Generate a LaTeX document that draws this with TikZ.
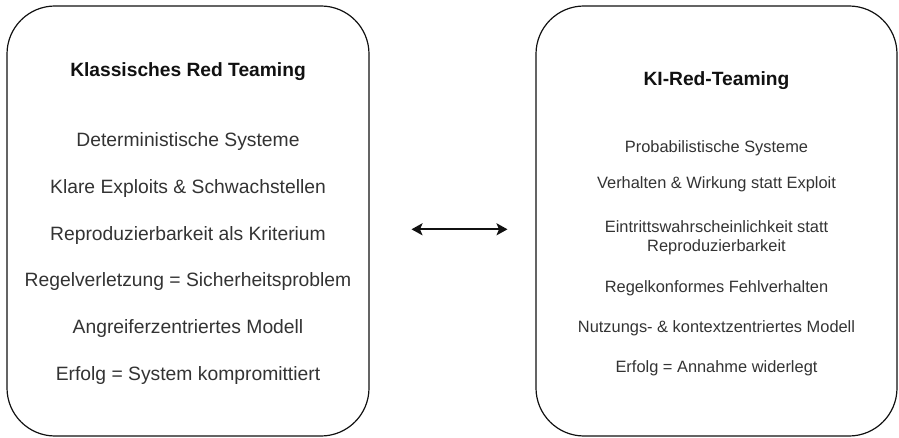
\documentclass[tikz,border=0pt]{standalone}
\usepackage{fontspec}
\setmainfont{Liberation Sans}
\usetikzlibrary{arrows.meta}

\definecolor{edge}{HTML}{111111}
\definecolor{bodytext}{HTML}{333333}
\definecolor{headtext}{HTML}{111111}

\tikzset{
  panel/.style={draw=edge, line width=1.2pt, rounded corners=48pt},
  headline/.style={anchor=base, inner sep=0pt, text=headtext,
    font=\fontsize{19.2}{22}\selectfont\bfseries},
  itembig/.style={anchor=base, inner sep=0pt, text=bodytext,
    font=\fontsize{19.3}{23}\selectfont},
  itemsmall/.style={anchor=base, inner sep=0pt, text=bodytext, align=center,
    font=\fontsize{16.4}{19.4}\selectfont},
  link/.style={draw=edge, line width=1.9pt,
    {Stealth[length=11pt,width=12pt,inset=2.5pt]}-{Stealth[length=11pt,width=12pt,inset=2.5pt]}}
}

\begin{document}
\begin{tikzpicture}[x=1pt,y=-1pt]
  \useasboundingbox (0,0) rectangle (899,438);

  % the two panels
  \draw[panel] (7,6) rectangle (369,436);
  \draw[panel] (536,6) rectangle (897,436);

  % left panel: classical red teaming
  \node[headline] (lt) at (188,76.7) {Klassisches Red Teaming};
  \node[itembig] (l1) at (188,147)   {Deterministische Systeme};
  \node[itembig] (l2) at (188,193.7) {Klare Exploits \& Schwachstellen};
  \node[itembig] (l3) at (188,240.3) {Reproduzierbarkeit als Kriterium};
  \node[itembig] (l4) at (188,287)   {Regelverletzung = Sicherheitsproblem};
  \node[itembig] (l5) at (188,333.7) {Angreiferzentriertes Modell};
  \node[itembig] (l6) at (188,380.3) {Erfolg = System kompromittiert};

  % right panel: AI red teaming
  \node[headline] (rt) at (716.5,86) {KI-Red-Teaming};
  \node[itemsmall] (r1) at (716.5,152.7) {Probabilistische Systeme};
  \node[itemsmall] (r2) at (716.5,188.3) {Verhalten \& Wirkung statt Exploit};
  \node[itemsmall] (r3a) at (716.5,232.3) {Eintrittswahrscheinlichkeit statt};
  \node[itemsmall] (r3b) at (716.5,251.7) {Reproduzierbarkeit};
  \node[itemsmall] (r4) at (716.5,292.7) {Regelkonformes Fehlverhalten};
  \node[itemsmall] (r5) at (716.5,332.7) {Nutzungs- \& kontextzentriertes Modell};
  \node[itemsmall] (r6) at (716.5,372.3) {Erfolg = Annahme widerlegt};

  % double-headed connector between the panels
  \coordinate (al) at (411.5,229.3);
  \coordinate (ar) at (507.5,229.3);
  \draw[link] (al) -- (ar);
\end{tikzpicture}
\end{document}
